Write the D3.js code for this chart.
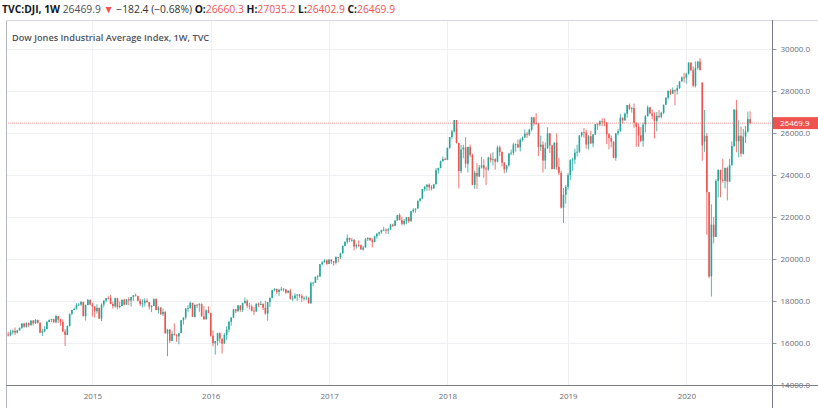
<!DOCTYPE html>
<html><head><meta charset="utf-8">
<script src="https://cdn.jsdelivr.net/npm/d3@7"></script>
<style>
body{margin:0;background:#fff;}
svg{display:block;font-family:"Open Sans",Roboto,sans-serif;}
</style>
</head><body><svg id="c" width="818" height="408"></svg>
<script>
// ---- DATA (weekly bars, first bar = week of 2014-04-21) ----
const startWeek = "2014-04-21";
const opens = [
16412,16361,16512,16583,16491,16606,16717,16924,16776,16947,16851,17068,16944,17100,16961,16493,16554,16663,17001,17098,17138,16988,17280,17113,17009,16544,16380,16805,17391,17573,17634,17810,17828,17958,17280,17804,
18053,17833,17737,17511,17673,17165,17825,18019,18140,18133,17856,17749,18128,17712,17763,18057,17826,18080,18024,18191,18272,18232,18010,17849,17898,18015,17947,17730,17760,18086,17568,17690,17373,17477,16460,16643,16102,16433,16385,16315,16472,17084,17216,17646,17663,17910,17245,17824,17798,17848,17265,17128,17552,
17425,16347,15988,16094,16466,16205,15974,16392,16640,17007,17213,17602,17516,17793,17577,17898,18004,17774,17740,17535,17501,17873,17807,17865,17675,17400,17949,18147,18516,18571,18432,18543,18576,18553,18395,18492,18085,18124,18262,18308,18240,18138,18146,18161,17888,18847,18868,19152,19171,19757,19843,19934,
19763,19964,19886,19827,20094,20071,20269,20624,20822,21005,20903,20914,20596,20663,20656,20453,20548,20941,21007,20897,20805,21080,21206,21272,21384,21395,21350,21414,21638,21580,21830,22092,21858,21675,21814,21988,21798,22268,22350,22405,22774,22872,23329,23434,23539,23422,23358,23558,24231,24329,24652,24754,
24719,25296,25803,26072,26617,25521,24191,25219,25310,24538,25336,24946,23533,24103,23933,24360,24463,24311,24263,24831,24715,24753,24635,25317,25090,24581,24271,24456,25019,25058,25451,25463,25313,25669,25790,25965,25916,26154,26743,26458,26447,25340,25444,24688,25271,25989,25413,24286,25538,24389,24101,22445,
23062,23433,23996,24706,24737,25064,25106,25883,26031,26026,25450,25849,25502,25929,26425,26412,26559,26543,26505,25942,25764,25586,24815,25984,26090,26719,26600,26922,27332,27154,27192,26485,26287,25886,25629,26403,26797,27220,26935,26820,26573,26817,26770,26958,27347,27681,28005,27876,28051,28015,28135,28455,
28645,28634,28823,29348,28990,28256,29102,29398,28400,25590,25865,23186,19174,21637,21053,23719,24242,23775,23724,24331,23685,24465,25383,27111,25606,25871,25016,25827,26075,26660];
const highs = [
16535,16632,16631,16736,16630,16743,16947,16970,16978,16978,17074,17088,17140,17110,16990,16680,16800,17040,17120,17150,17150,17350,17290,17150,17120,16660,16830,17400,17580,17680,17895,17895,17990,17960,17830,18103,
18070,17910,17760,17850,17680,17890,18040,18140,18230,18290,17970,18160,18160,17980,18070,18110,18100,18180,18200,18280,18350,18250,18100,18080,18130,18120,17950,17810,18120,18130,17750,17710,17640,17530,16670,16650,16550,16930,16420,16480,17090,17220,17650,17800,17980,17920,17830,17850,17900,17890,17760,17600,17750,
17440,16600,16100,16490,16510,16210,16470,16800,17060,17230,17620,17620,17800,17800,17920,18170,18080,17900,17830,17720,17890,17930,18010,17880,18010,17950,18170,18540,18620,18600,18550,18670,18620,18570,18510,18580,18260,18370,18320,18330,18330,18220,18250,18180,18930,18920,19160,19230,19760,19910,19990,19980,
19999,19980,19900,20130,20100,20300,20640,20830,21170,21010,20990,20940,20730,20890,20690,20630,21000,21030,21010,21000,21110,21230,21300,21390,21530,21460,21480,21680,21680,21830,22100,22180,22010,21900,22000,21990,22290,22420,22410,22780,22900,23340,23480,23560,23600,23520,23580,24330,24350,24690,24880,24840,
25300,25810,26150,26620,26620,25530,25440,25440,25800,25350,25450,25020,24200,24560,24480,24860,24750,24400,24870,25030,25080,24800,25400,25400,25120,24610,24480,25050,25210,25530,25500,25690,25750,25830,26170,26060,26200,26770,26770,26950,26460,25880,25600,25550,26280,25990,25420,25560,25980,24800,24200,23380,
23530,24090,24750,24820,25250,25440,25890,26060,26240,26160,25900,26110,25950,26430,26480,26600,26700,26700,26520,26000,25880,25610,26000,26180,26910,26750,26970,27340,27400,27240,27400,26500,26460,26280,26500,26860,27310,27250,27100,26990,27000,27090,27010,27350,27700,28030,28090,28170,28070,28290,28470,28700,
28870,28870,29370,29370,29170,29410,29420,29570,28410,27100,26000,23190,22600,22000,23800,24270,24250,24770,24360,24400,24770,25600,27140,27580,26600,26300,26200,26330,27020,27035];
const lows = [
16310,16320,16400,16375,16450,16590,16680,16730,16735,16750,16820,16830,16900,16920,16460,16333,16520,16660,16990,16995,16950,16940,16950,16820,16540,15855,16370,16780,17330,17560,17590,17770,17770,17260,17070,17800,
17790,17260,17210,17400,17140,17040,17690,17930,18070,17850,17630,17680,17600,17650,17760,17800,17820,17800,17730,18000,18220,17990,17760,17690,17740,17920,17590,17470,17760,17560,17400,17340,17280,16450,15370,16000,16090,16350,16050,15940,16470,16880,17120,17480,17640,17240,17220,17660,17480,17260,17100,17120,17420,
16300,15840,15450,15880,16000,15500,15970,16140,16510,16820,17180,17420,17480,17480,17480,17880,17660,17600,17500,17330,17480,17700,17800,17560,17350,17060,17710,18140,18460,18330,18240,18470,18450,18330,18370,18080,17990,18110,18000,18150,17960,18020,18040,17880,17880,18700,18860,19000,19150,19700,19830,19720,
19760,19760,19680,19740,19830,20000,20260,20600,20730,20800,20820,20410,20500,20570,20450,20400,20540,20860,20860,20550,20800,20970,21110,21200,21320,21200,21190,21380,21520,21560,21830,21840,21600,21600,21660,21710,21790,22200,22200,22400,22730,22850,23220,23240,23250,23270,23350,23550,24060,24320,24650,24710,
24710,25250,25700,26020,25500,23360,24080,24800,24340,24120,24850,23510,23340,23340,23900,24310,23870,23530,24200,24590,24450,24250,24600,24900,24400,24080,24110,24400,24950,24940,25110,25290,25120,25600,25760,25770,25850,26080,26350,26400,24900,25140,24120,24270,25240,25050,24270,24270,24240,24000,22400,21710,
22640,23300,23750,24200,24530,24880,25050,25800,25780,25250,25210,25480,25330,25900,26140,26320,26330,26320,25470,25220,25320,24800,24680,25890,26060,26460,26590,26730,27100,26970,26250,25340,25340,25560,25340,26030,26790,26890,26650,25740,26080,26700,26700,26900,27330,27590,27800,27860,27320,27830,28100,28450,
28400,28350,28780,28940,28170,28170,29020,28990,24680,25100,21150,19090,18210,20740,21050,22940,22940,23640,23360,22790,23680,24460,25330,25080,24840,24870,24970,25520,26020,26403];
const closes = [
16361,16512,16583,16491,16606,16717,16924,16776,16947,16851,17068,16944,17100,16961,16493,16554,16663,17001,17098,17138,16988,17280,17113,17009,16544,16380,16805,17391,17573,17634,17810,17828,17958,17280,17804,18053,
17833,17737,17511,17673,17165,17825,18019,18140,18133,17856,17749,18128,17712,17763,18057,17826,18080,18024,18191,18272,18232,18010,17849,17898,18015,17947,17730,17760,18086,17568,17690,17373,17477,16460,16643,16102,16433,16385,16315,16472,17084,17216,17646,17663,17910,17245,17824,17798,17848,17265,17128,17552,17425,
16347,15988,16094,16466,16205,15974,16392,16640,17007,17213,17602,17516,17793,17577,17898,18004,17774,17740,17535,17501,17873,17807,17865,17675,17400,17949,18147,18516,18571,18432,18543,18576,18553,18395,18492,18085,18124,18262,18308,18240,18138,18146,18161,17888,18847,18868,19152,19171,19757,19843,19934,19763,
19964,19886,19827,20094,20071,20269,20624,20822,21005,20903,20914,20596,20663,20656,20453,20548,20941,21007,20897,20805,21080,21206,21272,21384,21395,21350,21414,21638,21580,21830,22092,21858,21675,21814,21988,21798,22268,22350,22405,22774,22872,23329,23434,23539,23422,23358,23558,24231,24329,24652,24754,24719,
25296,25803,26072,26617,25521,24191,25219,25310,24538,25336,24946,23533,24103,23933,24360,24463,24311,24263,24831,24715,24753,24635,25317,25090,24581,24271,24456,25019,25058,25451,25463,25313,25669,25790,25965,25916,26154,26743,26458,26447,25340,25444,24688,25271,25989,25413,24286,25538,24389,24101,22445,23062,
23433,23996,24706,24737,25064,25106,25883,26031,26026,25450,25849,25502,25929,26425,26412,26559,26543,26505,25942,25764,25586,24815,25984,26090,26719,26600,26922,27332,27154,27192,26485,26287,25886,25629,26403,26797,27220,26935,26820,26573,26817,26770,26958,27347,27681,28005,27876,28051,28015,28135,28455,28645,
28634,28823,29348,28990,28256,29102,29398,28992,25409,25865,23186,19174,21637,21053,23719,24242,23775,23724,24331,23685,24465,25383,27111,25606,25871,25016,25827,26075,26672,26470];
const lastPrice = 26469.9;
const yTicks = [14000,16000,18000,20000,22000,24000,26000,28000,30000];
const yearLabels = ["2015","2016","2017","2018","2019","2020"];
const headerParts = [
  {t:"TVC:DJI, 1W ", c:"#131722", w:700},
  {t:"26469.9 ", c:"#4a4d57", w:400},
  {t:"\u25BC ", c:"#ef5350", w:400},
  {t:"\u2212182.4 (\u22120.68%) ", c:"#333", w:400},
  {t:"O:", c:"#131722", w:700},{t:"26660.3 ", c:"#ef5350", w:400},
  {t:"H:", c:"#131722", w:700},{t:"27035.2 ", c:"#ef5350", w:400},
  {t:"L:", c:"#131722", w:700},{t:"26402.9 ", c:"#ef5350", w:400},
  {t:"C:", c:"#131722", w:700},{t:"26469.9", c:"#ef5350", w:400}
];
const titleText = "Dow Jones Industrial Average Index, 1W, TVC";

// ---- CHART ----
const svg = d3.select("#c");
const P = {left:6, top:20, right:772, bottom:385};
const UP = "#26a69a", DOWN = "#ef5350";

const n = closes.length;
const x = d3.scaleLinear().domain([0, n-1]).range([8.2, 8.2 + (n-1)*2.2757]);
const y = d3.scaleLinear().domain([14000, 30000]).range([385, 49]);

const parse = d3.timeParse("%Y-%m-%d");
const weeks = d3.range(n).map(i => d3.timeMonday.offset(parse(startWeek), i));
const yearIdx = yearLabels.map(lbl => weeks.findIndex(d => d.getFullYear() === +lbl));

// grid
const g = svg.append("g");
g.selectAll("line.hg").data(yTicks).join("line")
  .attr("x1", P.left).attr("x2", P.right)
  .attr("y1", d => Math.round(y(d))+0.5).attr("y2", d => Math.round(y(d))+0.5)
  .attr("stroke", "#eef0f4").attr("stroke-width", 1);
g.selectAll("line.vg").data(yearIdx).join("line")
  .attr("x1", d => Math.round(x(d))+0.5).attr("x2", d => Math.round(x(d))+0.5)
  .attr("y1", P.top).attr("y2", P.bottom)
  .attr("stroke", "#eef0f4").attr("stroke-width", 1);

// candles
const bars = d3.range(n).map(i => ({i, o:opens[i], h:highs[i], l:lows[i], c:closes[i]}));
const cg = svg.append("g");
cg.selectAll("line.w").data(bars).join("line")
  .attr("x1", d => x(d.i)).attr("x2", d => x(d.i))
  .attr("y1", d => y(d.h)).attr("y2", d => y(d.l))
  .attr("stroke", d => d.c >= d.o ? UP : DOWN).attr("stroke-width", 0.8);
cg.selectAll("rect.b").data(bars).join("rect")
  .attr("x", d => x(d.i) - 0.8).attr("width", 1.6)
  .attr("y", d => y(Math.max(d.o, d.c)))
  .attr("height", d => Math.max(0.8, Math.abs(y(d.o) - y(d.c))))
  .attr("fill", d => d.c >= d.o ? UP : DOWN);

// price line
svg.append("line")
  .attr("x1", P.left).attr("x2", P.right)
  .attr("y1", y(lastPrice)).attr("y2", y(lastPrice))
  .attr("stroke", "#ef5350").attr("stroke-opacity", 0.55)
  .attr("stroke-width", 1).attr("stroke-dasharray", "1,1");

// frame
svg.append("line").attr("x1", P.left+0.5).attr("x2", P.left+0.5).attr("y1", P.top).attr("y2", 408).attr("stroke", "#b2b5be");
svg.append("line").attr("x1", P.left).attr("x2", 818).attr("y1", P.top+0.5).attr("y2", P.top+0.5).attr("stroke", "#d6d8de");

// y axis (right)
const yAxis = d3.axisRight(y).tickValues(yTicks).tickFormat(d3.format(".1f")).tickSize(4).tickPadding(4);
const ya = svg.append("g").attr("transform", `translate(${P.right+0.5},0)`).call(yAxis);
ya.select(".domain").remove();
ya.selectAll(".tick line").attr("stroke", "#9598a1");
ya.selectAll(".tick text").attr("fill", "#6a6d78").style("font-size", "8px").style("font-family", "Open Sans, sans-serif");
svg.append("line").attr("x1", P.right+0.5).attr("x2", P.right+0.5).attr("y1", P.top).attr("y2", 408).attr("stroke", "#7b7e88");

// x axis
const xAxis = d3.axisBottom(x).tickValues(yearIdx).tickFormat((d, k) => yearLabels[k]).tickSize(0).tickPadding(8);
const xa = svg.append("g").attr("transform", `translate(0,${P.bottom+0.5})`).call(xAxis);
xa.select(".domain").remove();
xa.selectAll(".tick text").attr("fill", "#6a6d78").style("font-size", "8px").style("font-family", "Open Sans, sans-serif");
svg.append("line").attr("x1", P.left).attr("x2", 818).attr("y1", P.bottom+0.5).attr("y2", P.bottom+0.5).attr("stroke", "#7b7e88");

// price label
const py = y(lastPrice);
svg.append("rect").attr("x", P.right+1).attr("y", py-6).attr("width", 818-P.right-1).attr("height", 12).attr("fill", "#ef5350");
svg.append("text").attr("x", P.right+8).attr("y", py+3).attr("fill", "#fff")
  .style("font-size", "8px").text(d3.format(".1f")(lastPrice));

// header
const ht = svg.append("text").attr("x", 2).attr("y", 13).style("font-size", "10.3px");
headerParts.forEach(p => ht.append("tspan").attr("fill", p.c).attr("font-weight", p.w).text(p.t));

// title
svg.append("text").attr("x", 12).attr("y", 41).attr("fill", "#50535e")
  .style("font-size", "9.2px").attr("font-weight", 600).text(titleText);
</script>
</body></html>
